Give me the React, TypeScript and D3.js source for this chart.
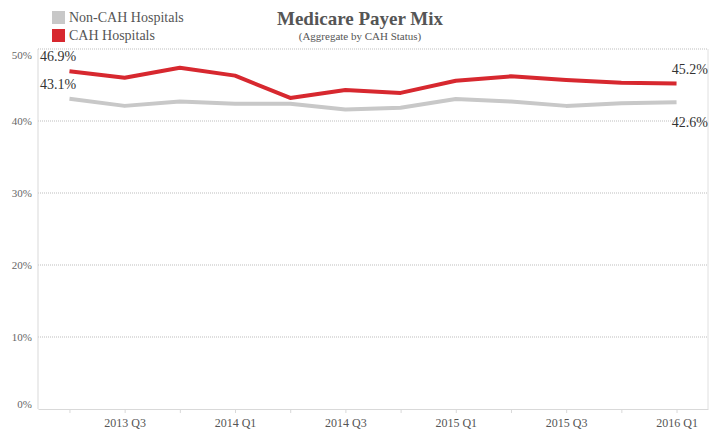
import { useEffect, useRef } from "react";
import * as d3 from "d3";

const quarters = [
  "2013 Q2", "2013 Q3", "2013 Q4",
  "2014 Q1", "2014 Q2", "2014 Q3", "2014 Q4",
  "2015 Q1", "2015 Q2", "2015 Q3", "2015 Q4",
  "2016 Q1",
];
const shownTicks = ["2013 Q3", "2014 Q1", "2014 Q3", "2015 Q1", "2015 Q3", "2016 Q1"];

const cahValues = [46.9, 46.0, 47.4, 46.3, 43.2, 44.3, 43.9, 45.6, 46.2, 45.7, 45.3, 45.2];
const nonCahValues = [43.1, 42.1, 42.7, 42.4, 42.4, 41.6, 41.85, 43.05, 42.7, 42.1, 42.45, 42.6];

const yTicks = [0, 10, 20, 30, 40, 50];

const seriesNames = ["Non-CAH Hospitals", "CAH Hospitals"];
const seriesColors = ["#c8c8c8", "#d7282f"];

const FONT = "'Liberation Serif', 'Times New Roman', serif";

function MedicareChart() {
  const ref = useRef<SVGSVGElement>(null);

  useEffect(() => {
    const svg = d3.select(ref.current);
    svg.selectAll("*").remove();

    const width = 720;
    const height = 432;
    const margin = { top: 49, right: 12, bottom: 23, left: 38 };

    const x = d3
      .scalePoint<string>()
      .domain(quarters)
      .range([margin.left, width - margin.right])
      .padding(0.57);

    const y = d3
      .scaleLinear()
      .domain([0, 50])
      .range([height - margin.bottom, margin.top]);

    // gridlines
    svg
      .append("g")
      .selectAll("line")
      .data(yTicks.filter((d) => d > 0))
      .join("line")
      .attr("x1", margin.left)
      .attr("x2", width - margin.right)
      .attr("y1", (d) => y(d))
      .attr("y2", (d) => y(d))
      .attr("stroke", "#bdbdbd")
      .attr("stroke-width", 1)
      .attr("stroke-dasharray", "1,1");

    // right border
    svg
      .append("line")
      .attr("x1", width - margin.right)
      .attr("x2", width - margin.right)
      .attr("y1", margin.top)
      .attr("y2", height - margin.bottom)
      .attr("stroke", "#e0e0e0");

    // left axis line
    svg
      .append("line")
      .attr("x1", margin.left)
      .attr("x2", margin.left)
      .attr("y1", margin.top)
      .attr("y2", height - margin.bottom)
      .attr("stroke", "#d9d9d9");

    // y labels
    svg
      .append("g")
      .selectAll("text")
      .data(yTicks)
      .join("text")
      .attr("x", margin.left - 6)
      .attr("y", (d) => y(d) + (d === 50 ? 10 : d === 0 ? -1 : 4))
      .attr("text-anchor", "end")
      .attr("font-family", FONT)
      .attr("font-size", 11)
      .attr("fill", "#666")
      .text((d) => `${d}%`);

    // x axis
    const xAxis = svg
      .append("g")
      .attr("transform", `translate(0,${height - margin.bottom})`)
      .call(
        d3
          .axisBottom(x)
          .tickSize(4)
          .tickSizeOuter(0)
          .tickFormat((d) => (shownTicks.includes(d) ? d : ""))
      );
    xAxis.select(".domain").attr("stroke", "#d9d9d9");
    xAxis.selectAll(".tick line").attr("stroke", "#d9d9d9");
    xAxis
      .selectAll(".tick text")
      .attr("font-family", FONT)
      .attr("font-size", 12)
      .attr("fill", "#555")
      .attr("y", 18)
      .attr("dy", 0);

    const line = d3
      .line<number>()
      .x((_, i) => x(quarters[i]) as number)
      .y((d) => y(d));

    const series = [nonCahValues, cahValues];
    series.forEach((vals, i) => {
      svg
        .append("path")
        .datum(vals)
        .attr("fill", "none")
        .attr("stroke", seriesColors[i])
        .attr("stroke-width", 4)
        .attr("stroke-linejoin", "round")
        .attr("d", line);
    });

    // end labels
    const last = quarters.length - 1;
    const labels = [
      { text: `${cahValues[0].toFixed(1)}%`, x: margin.left + 2, y: y(cahValues[0]) - 10, anchor: "start" },
      { text: `${nonCahValues[0].toFixed(1)}%`, x: margin.left + 2, y: y(nonCahValues[0]) - 10, anchor: "start" },
      { text: `${cahValues[last].toFixed(1)}%`, x: width - margin.right, y: y(cahValues[last]) - 10, anchor: "end" },
      { text: `${nonCahValues[last].toFixed(1)}%`, x: width - margin.right, y: y(nonCahValues[last]) + 25, anchor: "end" },
    ];
    svg
      .append("g")
      .selectAll("text")
      .data(labels)
      .join("text")
      .attr("x", (d) => d.x)
      .attr("y", (d) => d.y)
      .attr("text-anchor", (d) => d.anchor)
      .attr("font-family", FONT)
      .attr("font-size", 14)
      .attr("fill", "#333")
      .text((d) => d.text);

    // legend
    const legend = svg
      .append("g")
      .selectAll("g")
      .data(seriesNames)
      .join("g")
      .attr("transform", (_, i) => `translate(52,${11 + i * 18})`);
    legend
      .append("rect")
      .attr("width", 13)
      .attr("height", 13)
      .attr("fill", (_, i) => seriesColors[i]);
    legend
      .append("text")
      .attr("x", 17)
      .attr("y", 11)
      .attr("font-family", FONT)
      .attr("font-size", 14)
      .attr("fill", "#555")
      .text((d) => d);

    // title
    svg
      .append("text")
      .attr("x", 360)
      .attr("y", 25)
      .attr("text-anchor", "middle")
      .attr("font-family", FONT)
      .attr("font-size", 19)
      .attr("font-weight", "bold")
      .attr("fill", "#555")
      .text("Medicare Payer Mix");
    svg
      .append("text")
      .attr("x", 360)
      .attr("y", 40)
      .attr("text-anchor", "middle")
      .attr("font-family", FONT)
      .attr("font-size", 11)
      .attr("fill", "#555")
      .text("(Aggregate by CAH Status)");
  }, []);

  return <svg ref={ref} width={720} height={432} style={{ display: "block" }} />;
}

export default function App() {
  return (
    <div style={{ position: "absolute", left: 0, top: 0, width: 720, height: 432, overflow: "hidden" }}>
      <MedicareChart />
    </div>
  );
}
